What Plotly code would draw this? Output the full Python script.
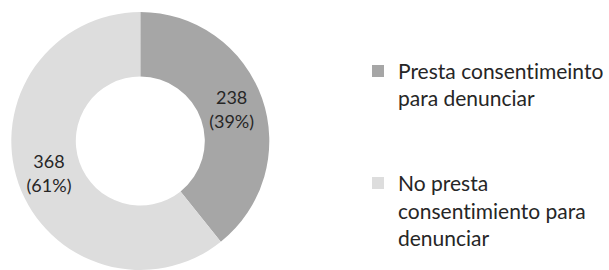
import plotly.graph_objects as go

labels = ["Presta consentimeinto<br>para denunciar<br> <br> ",
          "No presta<br>consentimiento para<br>denunciar"]
values = [238, 368]
colors = ["#A6A6A6", "#DDDDDD"]

W, H = 609, 270

fig = go.Figure(go.Pie(
    labels=labels,
    values=values,
    hole=0.5,
    sort=False,
    direction="clockwise",
    rotation=0,
    marker=dict(colors=colors, line=dict(width=0)),
    texttemplate="%{value}<br>(%{percent:.0%})",
    textposition="inside",
    insidetextorientation="horizontal",
    textfont=dict(family="Lato", size=18, color="#262626"),
    domain=dict(x=[11 / W, 271 / W], y=[0, (H - 12) / H]),
    hoverinfo="label+value+percent",
))

fig.update_layout(
    width=W, height=H,
    margin=dict(l=0, r=0, t=0, b=0),
    paper_bgcolor="white",
    plot_bgcolor="white",
    showlegend=True,
    legend=dict(
        x=0.591, y=0.812, xanchor="left", yanchor="top",
        valign="top",
        font=dict(family="Lato", size=21, color="#262626"),
        bgcolor="rgba(0,0,0,0)",
    ),
)

fig.write_html(
    "out.html",
    config={"displayModeBar": False},
    post_script=(
        "document.body.style.margin='0';"
        "document.body.style.overflow='hidden';"
        "document.querySelectorAll('text, tspan').forEach(function(t){"
        "t.style.fontVariantLigatures='none';"
        "t.style.fontFeatureSettings='\"liga\" 0, \"clig\" 0';});"
    ),
)
